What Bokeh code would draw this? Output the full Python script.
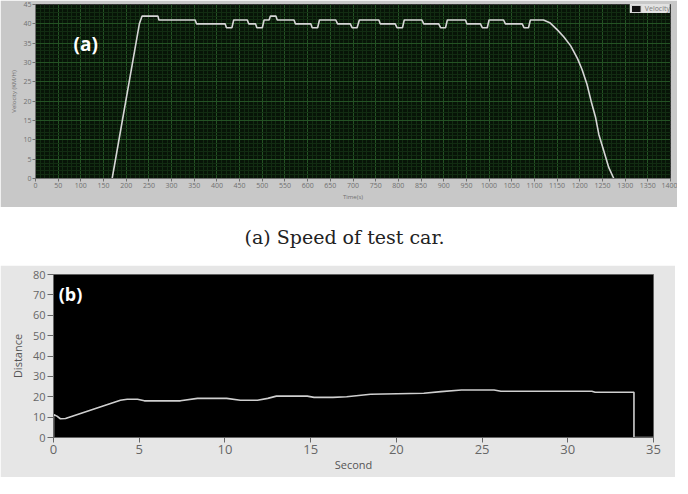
from bokeh.plotting import figure
from bokeh.models import (Label, Legend, LegendItem, SingleIntervalTicker, Range1d,
                          ColumnDataSource)
from bokeh.core.properties import value
from bokeh.layouts import column, row
from bokeh.embed import file_html
from bokeh.resources import INLINE

# ---- (a) velocity vs time ----
time_s = [169, 229, 235, 270, 272, 352, 355, 418, 421, 433, 437, 467, 470, 485, 488, 500,
          504, 515, 518, 530, 533, 570, 573, 607, 610, 622, 626, 662, 666, 694, 698, 709,
          714, 757, 760, 793, 797, 809, 813, 852, 856, 889, 893, 904, 908, 948, 951, 981,
          985, 996, 1000, 1032, 1036, 1073, 1077, 1087, 1091, 1120, 1135, 1150, 1165, 1180,
          1195, 1205, 1216, 1225, 1235, 1242, 1253, 1264, 1275]
velocity = [0, 40, 42, 42, 41, 41, 40, 40, 39, 39, 41, 41, 40, 40, 39, 39,
            41, 41, 42, 42, 41, 41, 40, 40, 39, 39, 41, 41, 40, 40, 39, 39,
            41, 41, 40, 40, 39, 39, 41, 41, 40, 40, 39, 39, 41, 41, 40, 40,
            39, 39, 41, 41, 40, 40, 39, 39, 41, 41, 40.2, 38.5, 36.6, 34.3,
            31.0, 28.2, 24.3, 20, 15.7, 11.4, 7.1, 2.8, 0]

# ---- (b) distance vs second ----
second = [0, 0, 0.2, 0.4, 0.7, 3.9, 4.3, 4.9, 5.3, 7.4, 8.4, 10.1, 10.9, 11.9, 12.5, 13.0,
          14.8, 15.2, 16.3, 17.1, 18.5, 21.6, 22.6, 23.8, 25.7, 26.1, 31.4, 31.6, 33.86,
          33.86, 35]
distance = [0, 11.3, 10.5, 9.2, 9.3, 18.3, 18.8, 18.8, 18.0, 18.0, 19.2, 19.2, 18.3, 18.3,
            19.2, 20.3, 20.3, 19.7, 19.7, 20.0, 21.2, 21.7, 22.5, 23.3, 23.3, 22.7, 22.7,
            22.2, 22.2, 0, 0]

caption = ["(a) Speed of test car."]

FONT = "Open Sans"

# ---------------- top chart ----------------
p1 = figure(width=677, height=207, output_backend="svg", toolbar_location=None,
            x_range=Range1d(0, 1400), y_range=Range1d(0, 45),
            min_border_left=35, min_border_right=7, min_border_top=4, min_border_bottom=29)
p1.background_fill_color = "#071407"
p1.border_fill_color = "#c8c8c8"
p1.outline_line_color = "#3a3a3a"
p1.xaxis.ticker = SingleIntervalTicker(interval=50, num_minor_ticks=5)
p1.yaxis.ticker = SingleIntervalTicker(interval=5, num_minor_ticks=5)
p1.xgrid.grid_line_color = "#245224"
p1.ygrid.grid_line_color = "#245224"
p1.xgrid.minor_grid_line_color = "#122c12"
p1.ygrid.minor_grid_line_color = "#122c12"
p1.xaxis.axis_label = "Time(s)"
p1.yaxis.axis_label = "Velocity (KM/H)"
for ax in (p1.xaxis[0], p1.yaxis[0]):
    ax.major_label_text_font = FONT
    ax.major_label_text_font_size = "7px"
    ax.major_label_text_color = "#707070"
    ax.major_label_standoff = 1
    ax.major_tick_out = 3
    ax.major_tick_in = 0
    ax.minor_tick_out = 0
    ax.minor_tick_in = 0
    ax.major_tick_line_color = "#707070"
    ax.axis_line_color = "#707070"
    ax.axis_label_text_font = FONT
    ax.axis_label_text_font_size = "6px"
    ax.axis_label_text_font_style = "normal"
    ax.axis_label_text_color = "#707070"
    ax.axis_label_standoff = 2

src_a = ColumnDataSource(dict(t=time_s, v=velocity))
line_a = p1.line("t", "v", source=src_a, line_color="#d6d6d6", line_width=1.6)

icon = p1.rect(x=[-100], y=[-100], width=1, height=1, fill_color="#111111",
               line_color="#dddddd")
legend = Legend(items=[LegendItem(label="Velocity", renderers=[icon])],
                location="top_right", label_text_font=FONT, label_text_font_size="7px",
                label_text_color="#7a7a7a", background_fill_color="#e2e2e2",
                background_fill_alpha=1, border_line_color=None, glyph_width=12,
                glyph_height=9, padding=3, margin=0, spacing=0, label_height=9,
                label_standoff=3)
p1.add_layout(legend)

p1.add_layout(Label(x=84, y=31.5, text="(a)", text_color="white", text_font=FONT,
                    text_font_style="bold", text_font_size="19px"))

# ---------------- caption ----------------
pc = figure(width=688, height=58, output_backend="svg", toolbar_location=None,
            x_range=Range1d(0, 1), y_range=Range1d(0, 1),
            x_axis_location=None, y_axis_location=None,
            min_border_left=0, min_border_right=0, min_border_top=0, min_border_bottom=0)
pc.grid.visible = False
pc.outline_line_color = None
pc.background_fill_color = "white"
pc.border_fill_color = "white"
pc.text(x=[0.5], y=[0.49], text=caption, text_align="center",
        text_baseline="middle", text_font=value("DejaVu Serif"),
        text_font_size="19px", text_color="#222222")

# ---------------- bottom chart ----------------
p2 = figure(width=675, height=212, output_backend="svg", toolbar_location=None,
            x_range=Range1d(0, 35), y_range=Range1d(0, 80),
            min_border_left=53, min_border_right=22, min_border_top=9, min_border_bottom=40)
p2.background_fill_color = "black"
p2.border_fill_color = "#e6e6e6"
p2.outline_line_color = "#606060"
p2.grid.visible = False
p2.xaxis.ticker = SingleIntervalTicker(interval=5, num_minor_ticks=0)
p2.yaxis.ticker = SingleIntervalTicker(interval=10, num_minor_ticks=0)
p2.xaxis.axis_label = "Second"
p2.yaxis.axis_label = "Distance"
for ax in (p2.xaxis[0], p2.yaxis[0]):
    ax.major_label_text_font = FONT
    ax.major_label_text_color = "#666666"
    ax.major_tick_in = 0
    ax.major_tick_line_color = "#666666"
    ax.minor_tick_out = 0
    ax.minor_tick_in = 0
    ax.axis_line_color = "#666666"
    ax.axis_label_text_font = FONT
    ax.axis_label_text_font_size = "11px"
    ax.axis_label_text_font_style = "normal"
    ax.axis_label_text_color = "#555555"
p2.xaxis.major_label_text_font_size = "13px"
p2.xaxis.major_tick_out = 5
p2.xaxis.major_label_standoff = 2
p2.xaxis.axis_label_standoff = 0
p2.yaxis.major_label_text_font_size = "11px"
p2.yaxis.major_tick_out = 6
p2.yaxis.major_label_standoff = 2
p2.yaxis.axis_label_standoff = 5

src_b = ColumnDataSource(dict(s=second, d=distance))
p2.line("s", "d", source=src_b, line_color="#cfcfcf", line_width=1.6)
p2.add_layout(Label(x=0.3, y=64.5, text="(b)", text_color="white", text_font=FONT,
                    text_font_style="bold", text_font_size="18px"))

layout = column(row(p1), pc, row(p2), spacing=0)
open("out.html", "w").write(file_html(layout, INLINE))
